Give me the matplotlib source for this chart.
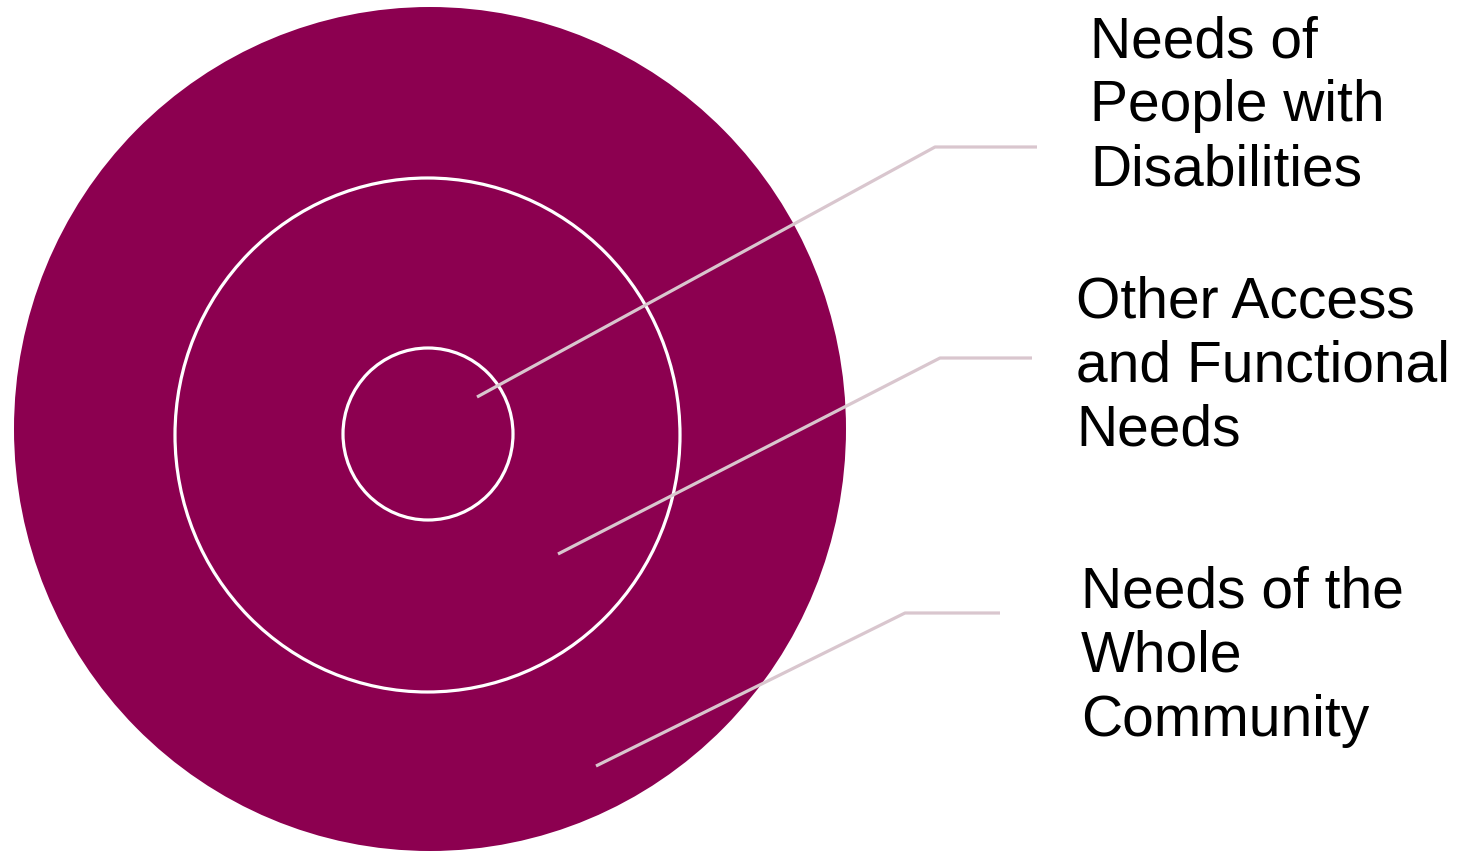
import matplotlib.pyplot as plt
from matplotlib.patches import Ellipse

# rings: centre x, centre y, width, height (pixel space)
ring_cx = [430, 427.5, 428]
ring_cy = [429, 435, 434]
ring_w = [832, 505, 170]
ring_h = [844, 514, 172]

labels = [
    ["Needs of", "People with", "Disabilities"],
    ["Other Access", "and Functional", "Needs"],
    ["Needs of the", "Whole", "Community"],
]
label_x = [1090, 1076, 1081]
label_base = [57, 318, 608]

# leader lines: start point, elbow, end
lead_x = [[477, 935, 1037], [558, 940, 1032], [596, 905, 1000]]
lead_y = [[397, 147, 147], [554, 358, 358], [766, 613, 613]]

plum = '#8c0050'
lead_col = '#d9c6ce'

fig = plt.figure(figsize=(14.65, 8.52), dpi=100)
ax = fig.add_axes([0, 0, 1, 1])
ax.set_xlim(0, 1465)
ax.set_ylim(852, 0)
ax.axis('off')

ax.add_patch(Ellipse((ring_cx[0], ring_cy[0]), ring_w[0], ring_h[0],
                     facecolor=plum, edgecolor='none'))
for i in (1, 2):
    ax.add_patch(Ellipse((ring_cx[i], ring_cy[i]), ring_w[i], ring_h[i],
                         facecolor='none', edgecolor='white', linewidth=2.3))

for xs, ys in zip(lead_x, lead_y):
    ax.plot(xs, ys, color=lead_col, linewidth=2.3, solid_capstyle='butt')

for lines, x0, y0 in zip(labels, label_x, label_base):
    for k, t in enumerate(lines):
        ax.text(x0, y0 + 64 * k, t, fontsize=41, family='Liberation Sans',
                color='black', va='baseline', ha='left')

plt.savefig('out.png', dpi=100)
